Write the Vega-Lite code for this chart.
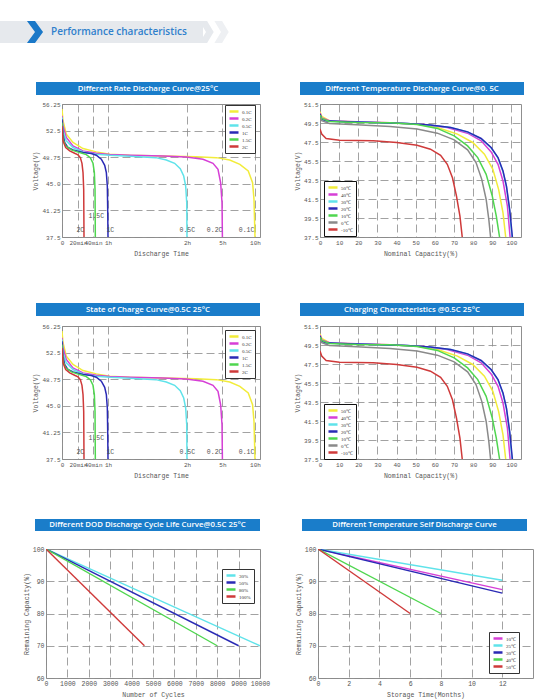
{
  "$schema": "https://vega.github.io/schema/vega-lite/v6.json",
  "background": "white",
  "padding": {"left": 0, "top": 21, "right": 0, "bottom": 0},
  "spacing": 0,
  "resolve": {
    "scale": {"x": "independent", "y": "independent", "color": "independent"},
    "legend": {"color": "independent"}
  },
  "datasets": {
    "rate": [
      {"rate": "0.1C", "t": 0, "v": 55.54}, {"rate": "0.1C", "t": 1.25, "v": 53.89}, {"rate": "0.1C", "t": 5.4, "v": 52.0},
      {"rate": "0.1C", "t": 13.75, "v": 50.82}, {"rate": "0.1C", "t": 26.7, "v": 49.97}, {"rate": "0.1C", "t": 44.4, "v": 49.5},
      {"rate": "0.1C", "t": 61.3, "v": 49.17}, {"rate": "0.1C", "t": 76.5, "v": 49.02}, {"rate": "0.1C", "t": 101.7, "v": 48.93},
      {"rate": "0.1C", "t": 167.4, "v": 48.83}, {"rate": "0.1C", "t": 269, "v": 48.69}, {"rate": "0.1C", "t": 367.8, "v": 48.36},
      {"rate": "0.1C", "t": 460.7, "v": 47.75}, {"rate": "0.1C", "t": 537.8, "v": 46.8}, {"rate": "0.1C", "t": 577.7, "v": 45.15},
      {"rate": "0.1C", "t": 590.7, "v": 42.8}, {"rate": "0.1C", "t": 600, "v": 37.5},
      {"rate": "0.2C", "t": 0, "v": 54.6}, {"rate": "0.2C", "t": 1.25, "v": 53.18}, {"rate": "0.2C", "t": 5.4, "v": 51.53},
      {"rate": "0.2C", "t": 13.75, "v": 50.35}, {"rate": "0.2C", "t": 26.7, "v": 49.64}, {"rate": "0.2C", "t": 44.4, "v": 49.31},
      {"rate": "0.2C", "t": 61.3, "v": 49.12}, {"rate": "0.2C", "t": 76.5, "v": 49.02}, {"rate": "0.2C", "t": 101.7, "v": 48.93},
      {"rate": "0.2C", "t": 119.4, "v": 48.79}, {"rate": "0.2C", "t": 201.4, "v": 48.46}, {"rate": "0.2C", "t": 252.2, "v": 47.89},
      {"rate": "0.2C", "t": 277.6, "v": 47.04}, {"rate": "0.2C", "t": 291.1, "v": 45.15}, {"rate": "0.2C", "t": 298, "v": 42.32},
      {"rate": "0.2C", "t": 300, "v": 37.5},
      {"rate": "0.5C", "t": 0, "v": 54.36}, {"rate": "0.5C", "t": 1.25, "v": 52.47}, {"rate": "0.5C", "t": 5.4, "v": 51.05},
      {"rate": "0.5C", "t": 13.75, "v": 50.11}, {"rate": "0.5C", "t": 26.7, "v": 49.5}, {"rate": "0.5C", "t": 44.4, "v": 49.17},
      {"rate": "0.5C", "t": 61.3, "v": 49.02}, {"rate": "0.5C", "t": 76.5, "v": 48.88}, {"rate": "0.5C", "t": 96.4, "v": 48.69},
      {"rate": "0.5C", "t": 104.3, "v": 48.36}, {"rate": "0.5C", "t": 110.6, "v": 47.89}, {"rate": "0.5C", "t": 114.9, "v": 47.14},
      {"rate": "0.5C", "t": 117.5, "v": 46.1}, {"rate": "0.5C", "t": 119, "v": 44.68}, {"rate": "0.5C", "t": 119.8, "v": 42.32},
      {"rate": "0.5C", "t": 120, "v": 37.5},
      {"rate": "1C", "t": 0, "v": 54.1}, {"rate": "1C", "t": 1.25, "v": 52.0}, {"rate": "1C", "t": 3.3, "v": 50.82},
      {"rate": "1C", "t": 7.5, "v": 50.11}, {"rate": "1C", "t": 13.75, "v": 49.78}, {"rate": "1C", "t": 26.7, "v": 49.4},
      {"rate": "1C", "t": 37.8, "v": 49.26}, {"rate": "1C", "t": 44.4, "v": 49.02}, {"rate": "1C", "t": 51.1, "v": 48.46},
      {"rate": "1C", "t": 55.6, "v": 47.61}, {"rate": "1C", "t": 57.8, "v": 46.57}, {"rate": "1C", "t": 59.1, "v": 44.68},
      {"rate": "1C", "t": 59.6, "v": 41.37}, {"rate": "1C", "t": 60, "v": 37.5},
      {"rate": "1.5C", "t": 0, "v": 53.65}, {"rate": "1.5C", "t": 1.25, "v": 51.29}, {"rate": "1.5C", "t": 4.6, "v": 50.35},
      {"rate": "1.5C", "t": 11.7, "v": 49.78}, {"rate": "1.5C", "t": 22.2, "v": 49.4}, {"rate": "1.5C", "t": 31.1, "v": 49.12},
      {"rate": "1.5C", "t": 36.4, "v": 48.69}, {"rate": "1.5C", "t": 40, "v": 47.89}, {"rate": "1.5C", "t": 41.8, "v": 46.57},
      {"rate": "1.5C", "t": 42.7, "v": 44.2}, {"rate": "1.5C", "t": 43.1, "v": 37.5},
      {"rate": "2C", "t": 0, "v": 53.18}, {"rate": "2C", "t": 1.25, "v": 51.06}, {"rate": "2C", "t": 4.6, "v": 50.11},
      {"rate": "2C", "t": 9.6, "v": 49.64}, {"rate": "2C", "t": 15.8, "v": 49.31}, {"rate": "2C", "t": 20, "v": 49.07},
      {"rate": "2C", "t": 23.1, "v": 48.69}, {"rate": "2C", "t": 25.3, "v": 47.89}, {"rate": "2C", "t": 26.7, "v": 46.57},
      {"rate": "2C", "t": 27.6, "v": 44.2}, {"rate": "2C", "t": 28, "v": 37.5}
    ],
    "rateLabels": [
      {"label": "2C", "t": 23.1, "v": 38.44},
      {"label": "1.5C", "t": 44.4, "v": 40.43},
      {"label": "1C", "t": 61.8, "v": 38.44},
      {"label": "0.5C", "t": 121.6, "v": 38.44},
      {"label": "0.2C", "t": 260.6, "v": 38.44},
      {"label": "0.1C", "t": 522, "v": 38.44}
    ],
    "temp": [
      {"temp": "50℃", "c": 0, "v": 50.69}, {"temp": "50℃", "c": 0.9, "v": 50.2}, {"temp": "50℃", "c": 4.9, "v": 49.74},
      {"temp": "50℃", "c": 19, "v": 49.6}, {"temp": "50℃", "c": 36.6, "v": 49.53}, {"temp": "50℃", "c": 50.7, "v": 49.38},
      {"temp": "50℃", "c": 61.3, "v": 49.03}, {"temp": "50℃", "c": 71.8, "v": 48.33}, {"temp": "50℃", "c": 79.8, "v": 47.45},
      {"temp": "50℃", "c": 85.9, "v": 46.21}, {"temp": "50℃", "c": 90.3, "v": 44.62}, {"temp": "50℃", "c": 93.3, "v": 42.51},
      {"temp": "50℃", "c": 95.6, "v": 40.04}, {"temp": "50℃", "c": 97, "v": 37.5},
      {"temp": "40℃", "c": 0, "v": 50.55}, {"temp": "40℃", "c": 0.9, "v": 50.02}, {"temp": "40℃", "c": 4.9, "v": 49.74},
      {"temp": "40℃", "c": 19, "v": 49.63}, {"temp": "40℃", "c": 36.6, "v": 49.53}, {"temp": "40℃", "c": 54.2, "v": 49.35},
      {"temp": "40℃", "c": 66.5, "v": 49.03}, {"temp": "40℃", "c": 77.1, "v": 48.43}, {"temp": "40℃", "c": 84.2, "v": 47.62},
      {"temp": "40℃", "c": 89.4, "v": 46.46}, {"temp": "40℃", "c": 93, "v": 45.15}, {"temp": "40℃", "c": 95.6, "v": 43.39},
      {"temp": "40℃", "c": 97.9, "v": 40.75}, {"temp": "40℃", "c": 99.3, "v": 37.5},
      {"temp": "30℃", "c": 0, "v": 50.4}, {"temp": "30℃", "c": 0.9, "v": 49.88}, {"temp": "30℃", "c": 3.2, "v": 49.72},
      {"temp": "30℃", "c": 10.2, "v": 49.66}, {"temp": "30℃", "c": 27.8, "v": 49.55}, {"temp": "30℃", "c": 45.4, "v": 49.44},
      {"temp": "30℃", "c": 57.7, "v": 49.27}, {"temp": "30℃", "c": 68.3, "v": 49.02}, {"temp": "30℃", "c": 77.1, "v": 48.55},
      {"temp": "30℃", "c": 84.2, "v": 47.84}, {"temp": "30℃", "c": 89.4, "v": 46.88}, {"temp": "30℃", "c": 93, "v": 45.8},
      {"temp": "30℃", "c": 95.6, "v": 44.38}, {"temp": "30℃", "c": 97.4, "v": 42.78}, {"temp": "30℃", "c": 99, "v": 40.3},
      {"temp": "30℃", "c": 100.3, "v": 37.5},
      {"temp": "20℃", "c": 0, "v": 50.44}, {"temp": "20℃", "c": 0.9, "v": 49.91}, {"temp": "20℃", "c": 3.2, "v": 49.74},
      {"temp": "20℃", "c": 10.2, "v": 49.67}, {"temp": "20℃", "c": 27.8, "v": 49.56}, {"temp": "20℃", "c": 45.4, "v": 49.45},
      {"temp": "20℃", "c": 57.7, "v": 49.28}, {"temp": "20℃", "c": 68.3, "v": 49.03}, {"temp": "20℃", "c": 77.1, "v": 48.57},
      {"temp": "20℃", "c": 84.2, "v": 47.87}, {"temp": "20℃", "c": 89.4, "v": 46.92}, {"temp": "20℃", "c": 93, "v": 45.86},
      {"temp": "20℃", "c": 95.6, "v": 44.45}, {"temp": "20℃", "c": 97.4, "v": 42.86}, {"temp": "20℃", "c": 99.1, "v": 40.39},
      {"temp": "20℃", "c": 100.5, "v": 37.5},
      {"temp": "10℃", "c": 0, "v": 50.34}, {"temp": "10℃", "c": 0.9, "v": 49.98}, {"temp": "10℃", "c": 4.9, "v": 49.67},
      {"temp": "10℃", "c": 19, "v": 49.56}, {"temp": "10℃", "c": 36.6, "v": 49.53}, {"temp": "10℃", "c": 50.7, "v": 49.35},
      {"temp": "10℃", "c": 61.3, "v": 48.93}, {"temp": "10℃", "c": 70.1, "v": 48.15}, {"temp": "10℃", "c": 77.1, "v": 47.09},
      {"temp": "10℃", "c": 82.4, "v": 45.86}, {"temp": "10℃", "c": 86.8, "v": 44.1}, {"temp": "10℃", "c": 90, "v": 41.8},
      {"temp": "10℃", "c": 92.1, "v": 39.69}, {"temp": "10℃", "c": 93.8, "v": 37.5},
      {"temp": "0℃", "c": 0, "v": 50.09}, {"temp": "0℃", "c": 0.9, "v": 49.74}, {"temp": "0℃", "c": 4.9, "v": 49.45},
      {"temp": "0℃", "c": 19, "v": 49.31}, {"temp": "0℃", "c": 36.6, "v": 49.14}, {"temp": "0℃", "c": 50.7, "v": 48.86},
      {"temp": "0℃", "c": 61.3, "v": 48.43}, {"temp": "0℃", "c": 70.1, "v": 47.73}, {"temp": "0℃", "c": 77.1, "v": 46.67},
      {"temp": "0℃", "c": 81.5, "v": 45.33}, {"temp": "0℃", "c": 84.5, "v": 43.57}, {"temp": "0℃", "c": 86.8, "v": 41.45},
      {"temp": "0℃", "c": 88.2, "v": 39.33}, {"temp": "0℃", "c": 89.1, "v": 37.5},
      {"temp": "-10℃", "c": 0, "v": 48.86}, {"temp": "-10℃", "c": 0.9, "v": 48.33}, {"temp": "-10℃", "c": 3.2, "v": 47.87},
      {"temp": "-10℃", "c": 10.2, "v": 47.69}, {"temp": "-10℃", "c": 27.8, "v": 47.62}, {"temp": "-10℃", "c": 40.1, "v": 47.45},
      {"temp": "-10℃", "c": 50.7, "v": 47.16}, {"temp": "-10℃", "c": 57.7, "v": 46.74}, {"temp": "-10℃", "c": 63, "v": 46.1},
      {"temp": "-10℃", "c": 66.5, "v": 45.15}, {"temp": "-10℃", "c": 69.2, "v": 43.74}, {"temp": "-10℃", "c": 71.3, "v": 41.8},
      {"temp": "-10℃", "c": 73.1, "v": 39.69}, {"temp": "-10℃", "c": 74.3, "v": 37.5}
    ],
    "dod": [
      {"dod": "30%", "cycles": 0, "cap": 100}, {"dod": "30%", "cycles": 10000, "cap": 70},
      {"dod": "50%", "cycles": 0, "cap": 100}, {"dod": "50%", "cycles": 9000, "cap": 70},
      {"dod": "80%", "cycles": 0, "cap": 100}, {"dod": "80%", "cycles": 8000, "cap": 70},
      {"dod": "100%", "cycles": 0, "cap": 100}, {"dod": "100%", "cycles": 4600, "cap": 70}
    ],
    "selfDischarge": [
      {"temp": "10℃", "months": 0, "cap": 100}, {"temp": "10℃", "months": 12, "cap": 87.4},
      {"temp": "25℃", "months": 0, "cap": 100}, {"temp": "25℃", "months": 12, "cap": 90.3},
      {"temp": "30℃", "months": 0, "cap": 100}, {"temp": "30℃", "months": 12, "cap": 86.3},
      {"temp": "40℃", "months": 0, "cap": 100}, {"temp": "40℃", "months": 8, "cap": 80},
      {"temp": "50℃", "months": 0, "cap": 100}, {"temp": "50℃", "months": 6, "cap": 80}
    ]
  },
  "vconcat": [
    {
      "hconcat": [
        {
          "width": 230, "height": 22,
          "layer": [
            {"data": {"values": [{}]}, "mark": {"type": "rect", "color": "#e6e9ed"},
             "encoding": {"x": {"datum": 0, "type": "quantitative", "scale": {"domain": [0, 230], "nice": false}, "axis": null}, "x2": {"datum": 203}}},
            {"data": {"values": [{}]}, "mark": {"type": "point", "shape": "M-0.6,-1L0.1,-1L0.7,0L0.1,1L-0.6,1L0,0Z", "size": 484, "filled": true, "opacity": 1, "color": "#e6e9ed"},
             "encoding": {"x": {"datum": 206, "type": "quantitative", "axis": null}}},
            {"data": {"values": [{}]}, "mark": {"type": "point", "shape": "M-0.6,-1L0.1,-1L0.7,0L0.1,1L-0.6,1L0,0Z", "size": 484, "filled": true, "opacity": 1, "color": "#eef0f3"},
             "encoding": {"x": {"datum": 221, "type": "quantitative", "axis": null}}},
            {"data": {"values": [{}]}, "mark": {"type": "point", "shape": "M-0.73,-1L0,-1L0.73,0L0,1L-0.73,1L0,0Z", "size": 484, "filled": true, "opacity": 1, "color": "#1a78c8"},
             "encoding": {"x": {"datum": 35, "type": "quantitative", "axis": null}}},
            {"data": {"values": [{"text": "Performance characteristics"}]},
             "mark": {"type": "text", "align": "left", "font": "Open Sans", "fontSize": 10, "fontWeight": 600, "color": "#2f80cc"},
             "encoding": {"x": {"datum": 51, "type": "quantitative", "axis": null}, "text": {"field": "text", "type": "nominal"}}}
          ]
        },
        {"width": 1, "height": 58, "data": {"values": [{}]}, "mark": {"type": "point", "opacity": 0}, "encoding": {}}
      ],
      "bounds": "flush", "spacing": 0
    },
    {
      "hconcat": [
        {"width": 36, "height": 18, "data": {"values": [{}]}, "mark": {"type": "point", "opacity": 0}, "encoding": {}},
        {"width": 224, "height": 13, "view": {"fill": "#1a7dca", "stroke": null},
         "data": {"values": [{"title": "Different Rate Discharge Curve@25°C"}]},
         "mark": {"type": "text", "color": "white", "font": "Open Sans", "fontSize": 7.8, "fontWeight": 600},
         "encoding": {"text": {"field": "title", "type": "nominal"}}},
        {"width": 40, "height": 1, "data": {"values": [{}]}, "mark": {"type": "point", "opacity": 0}, "encoding": {}},
        {"width": 224, "height": 13, "view": {"fill": "#1a7dca", "stroke": null},
         "data": {"values": [{"title": "Different Temperature Discharge Curve@0. 5C"}]},
         "mark": {"type": "text", "color": "white", "font": "Open Sans", "fontSize": 7.8, "fontWeight": 600},
         "encoding": {"text": {"field": "title", "type": "nominal"}}}
      ],
      "bounds": "flush", "spacing": 0
    },
    {
      "hconcat": [
        {"width": 62, "height": 196, "data": {"values": [{}]}, "mark": {"type": "point", "opacity": 0}, "encoding": {}},
        {
          "width": 198, "height": 133,
          "view": {"stroke": "#8f8f8f", "strokeWidth": 1},
          "layer": [
            {"data": {"name": "rate"}, "mark": {"type": "line", "strokeWidth": 1.5, "clip": true},
             "encoding": {
               "x": {"field": "t", "type": "quantitative", "title": "Discharge Time",
                     "scale": {"domain": [0, 20, 40, 60, 120, 300, 600, 646], "range": [0, 16, 31, 46, 125, 160.4, 193, 198], "nice": false},
                     "axis": {"values": [0, 20, 40, 60, 120, 300, 600], "tickCount": 20, "labelExpr": "datum.value == 0 ? '0' : datum.value < 60 ? datum.value + 'min' : (datum.value / 60) + 'h'"}},
               "y": {"field": "v", "type": "quantitative", "title": "Voltage(V)",
                     "scale": {"domain": [37.5, 56.25], "nice": false, "zero": false},
                     "axis": {"values": [37.5, 41.25, 45, 48.75, 52.5, 56.25], "tickCount": 20, "format": ".2~f", "labelExpr": "datum.value == 45 ? '45.0' : datum.label"}},
               "color": {"field": "rate", "type": "nominal",
                         "scale": {"domain": ["0.1C", "0.2C", "0.5C", "1C", "1.5C", "2C"], "range": ["#f2ec3a", "#d63fd6", "#5fe3ea", "#2a2ab5", "#4fd64f", "#cf3a3a"]},
                         "legend": {"title": null, "orient": "none", "legendX": 163, "legendY": 1}}
             }},
            {"data": {"name": "rateLabels"}, "mark": {"type": "text", "font": "Liberation Mono", "fontSize": 6.5, "color": "#555"},
             "encoding": {
               "x": {"field": "t", "type": "quantitative", "title": "Discharge Time",
                     "axis": {"values": [0, 20, 40, 60, 120, 300, 600], "tickCount": 20, "labelExpr": "datum.value == 0 ? '0' : datum.value < 60 ? datum.value + 'min' : (datum.value / 60) + 'h'"}},
               "y": {"field": "v", "type": "quantitative", "title": "Voltage(V)",
                     "axis": {"values": [37.5, 41.25, 45, 48.75, 52.5, 56.25], "tickCount": 20, "format": ".2~f", "labelExpr": "datum.value == 45 ? '45.0' : datum.label"}},
               "text": {"field": "label", "type": "nominal"}
             }}
          ]
        },
        {"width": 60, "height": 1, "data": {"values": [{}]}, "mark": {"type": "point", "opacity": 0}, "encoding": {}},
        {
          "width": 201, "height": 133,
          "view": {"stroke": "#8f8f8f", "strokeWidth": 1},
          "data": {"name": "temp"},
          "mark": {"type": "line", "strokeWidth": 1.5, "clip": true},
          "encoding": {
            "x": {"field": "c", "type": "quantitative", "title": "Nominal Capacity(%)",
                  "scale": {"domain": [0, 105], "nice": false},
                  "axis": {"values": [0, 10, 20, 30, 40, 50, 60, 70, 80, 90, 100], "format": "d"}},
            "y": {"field": "v", "type": "quantitative", "title": "Voltage(V)",
                  "scale": {"domain": [37.5, 51.5], "nice": false, "zero": false},
                  "axis": {"values": [37.5, 39.5, 41.5, 43.5, 45.5, 47.5, 49.5, 51.5], "format": ".1f"}},
            "color": {"field": "temp", "type": "nominal",
                      "scale": {"domain": ["50℃", "40℃", "30℃", "20℃", "10℃", "0℃", "-10℃"], "range": ["#f2ec3a", "#d63fd6", "#5fe3ea", "#2a2ab5", "#4fd64f", "#8a8a8a", "#cf3a3a"]},
                      "legend": {"title": null, "orient": "none", "legendX": 4, "legendY": 77, "strokeColor": "#111"}}
          }
        }
      ],
      "bounds": "flush", "spacing": 0,
      "resolve": {"scale": {"x": "independent", "y": "independent", "color": "independent"}, "legend": {"color": "independent"}}
    },
    {
      "hconcat": [
        {"width": 36, "height": 19, "data": {"values": [{}]}, "mark": {"type": "point", "opacity": 0}, "encoding": {}},
        {"width": 224, "height": 13, "view": {"fill": "#1a7dca", "stroke": null},
         "data": {"values": [{"title": "State of Charge Curve@0.5C 25°C"}]},
         "mark": {"type": "text", "color": "white", "font": "Open Sans", "fontSize": 7.8, "fontWeight": 600},
         "encoding": {"text": {"field": "title", "type": "nominal"}}},
        {"width": 40, "height": 1, "data": {"values": [{}]}, "mark": {"type": "point", "opacity": 0}, "encoding": {}},
        {"width": 224, "height": 13, "view": {"fill": "#1a7dca", "stroke": null},
         "data": {"values": [{"title": "Charging Characteristics @0.5C 25°C"}]},
         "mark": {"type": "text", "color": "white", "font": "Open Sans", "fontSize": 7.8, "fontWeight": 600},
         "encoding": {"text": {"field": "title", "type": "nominal"}}}
      ],
      "bounds": "flush", "spacing": 0
    },
    {
      "hconcat": [
        {"width": 62, "height": 190, "data": {"values": [{}]}, "mark": {"type": "point", "opacity": 0}, "encoding": {}},
        {
          "width": 198, "height": 133,
          "view": {"stroke": "#8f8f8f", "strokeWidth": 1},
          "layer": [
            {"data": {"name": "rate"}, "mark": {"type": "line", "strokeWidth": 1.5, "clip": true},
             "encoding": {
               "x": {"field": "t", "type": "quantitative", "title": "Discharge Time",
                     "scale": {"domain": [0, 20, 40, 60, 120, 300, 600, 646], "range": [0, 16, 31, 46, 125, 160.4, 193, 198], "nice": false},
                     "axis": {"values": [0, 20, 40, 60, 120, 300, 600], "tickCount": 20, "labelExpr": "datum.value == 0 ? '0' : datum.value < 60 ? datum.value + 'min' : (datum.value / 60) + 'h'"}},
               "y": {"field": "v", "type": "quantitative", "title": "Voltage(V)",
                     "scale": {"domain": [37.5, 56.25], "nice": false, "zero": false},
                     "axis": {"values": [37.5, 41.25, 45, 48.75, 52.5, 56.25], "tickCount": 20, "format": ".2~f", "labelExpr": "datum.value == 45 ? '45.0' : datum.label"}},
               "color": {"field": "rate", "type": "nominal",
                         "scale": {"domain": ["0.1C", "0.2C", "0.5C", "1C", "1.5C", "2C"], "range": ["#f2ec3a", "#d63fd6", "#5fe3ea", "#2a2ab5", "#4fd64f", "#cf3a3a"]},
                         "legend": {"title": null, "orient": "none", "legendX": 163, "legendY": 4}}
             }},
            {"data": {"name": "rateLabels"}, "mark": {"type": "text", "font": "Liberation Mono", "fontSize": 6.5, "color": "#555"},
             "encoding": {
               "x": {"field": "t", "type": "quantitative", "title": "Discharge Time",
                     "axis": {"values": [0, 20, 40, 60, 120, 300, 600], "tickCount": 20, "labelExpr": "datum.value == 0 ? '0' : datum.value < 60 ? datum.value + 'min' : (datum.value / 60) + 'h'"}},
               "y": {"field": "v", "type": "quantitative", "title": "Voltage(V)",
                     "axis": {"values": [37.5, 41.25, 45, 48.75, 52.5, 56.25], "tickCount": 20, "format": ".2~f", "labelExpr": "datum.value == 45 ? '45.0' : datum.label"}},
               "text": {"field": "label", "type": "nominal"}
             }}
          ]
        },
        {"width": 60, "height": 1, "data": {"values": [{}]}, "mark": {"type": "point", "opacity": 0}, "encoding": {}},
        {
          "width": 201, "height": 133,
          "view": {"stroke": "#8f8f8f", "strokeWidth": 1},
          "data": {"name": "temp"},
          "mark": {"type": "line", "strokeWidth": 1.5, "clip": true},
          "encoding": {
            "x": {"field": "c", "type": "quantitative", "title": "Nominal Capacity(%)",
                  "scale": {"domain": [0, 105], "nice": false},
                  "axis": {"values": [0, 10, 20, 30, 40, 50, 60, 70, 80, 90, 100], "format": "d"}},
            "y": {"field": "v", "type": "quantitative", "title": "Voltage(V)",
                  "scale": {"domain": [37.5, 51.5], "nice": false, "zero": false},
                  "axis": {"values": [37.5, 39.5, 41.5, 43.5, 45.5, 47.5, 49.5, 51.5], "format": ".1f"}},
            "color": {"field": "temp", "type": "nominal",
                      "scale": {"domain": ["50℃", "40℃", "30℃", "20℃", "10℃", "0℃", "-10℃"], "range": ["#f2ec3a", "#d63fd6", "#5fe3ea", "#2a2ab5", "#4fd64f", "#8a8a8a", "#cf3a3a"]},
                      "legend": {"title": null, "orient": "none", "legendX": 4, "legendY": 78, "strokeColor": "#111"}}
          }
        }
      ],
      "bounds": "flush", "spacing": 0,
      "resolve": {"scale": {"x": "independent", "y": "independent", "color": "independent"}, "legend": {"color": "independent"}}
    },
    {
      "hconcat": [
        {"width": 35, "height": 26, "data": {"values": [{}]}, "mark": {"type": "point", "opacity": 0}, "encoding": {}},
        {"width": 225, "height": 12, "view": {"fill": "#1a7dca", "stroke": null},
         "data": {"values": [{"title": "Different DOD Discharge Cycle Life Curve@0.5C 25°C"}]},
         "mark": {"type": "text", "color": "white", "font": "Open Sans", "fontSize": 7.8, "fontWeight": 600},
         "encoding": {"text": {"field": "title", "type": "nominal"}}},
        {"width": 42, "height": 1, "data": {"values": [{}]}, "mark": {"type": "point", "opacity": 0}, "encoding": {}},
        {"width": 225, "height": 12, "view": {"fill": "#1a7dca", "stroke": null},
         "data": {"values": [{"title": "Different Temperature Self Discharge Curve"}]},
         "mark": {"type": "text", "color": "white", "font": "Open Sans", "fontSize": 7.8, "fontWeight": 600},
         "encoding": {"text": {"field": "title", "type": "nominal"}}}
      ],
      "bounds": "flush", "spacing": 0
    },
    {
      "hconcat": [
        {"width": 46, "height": 129, "data": {"values": [{}]}, "mark": {"type": "point", "opacity": 0}, "encoding": {}},
        {
          "width": 214, "height": 129,
          "view": {"stroke": "#8f8f8f", "strokeWidth": 1},
          "data": {"name": "dod"},
          "mark": {"type": "line", "strokeWidth": 1.4, "clip": true},
          "encoding": {
            "x": {"field": "cycles", "type": "quantitative", "title": "Number of Cycles",
                  "scale": {"domain": [0, 10000], "nice": false},
                  "axis": {"values": [0, 1000, 2000, 3000, 4000, 5000, 6000, 7000, 8000, 9000, 10000], "format": "d", "labelFontSize": 6.5}},
            "y": {"field": "cap", "type": "quantitative", "title": "Remaining Capacity(%)",
                  "scale": {"domain": [60, 100], "nice": false, "zero": false},
                  "axis": {"values": [60, 70, 80, 90, 100], "format": "d", "labelFontSize": 6.5}},
            "color": {"field": "dod", "type": "nominal",
                      "scale": {"domain": ["30%", "50%", "80%", "100%"], "range": ["#5fe3ea", "#2a2ab5", "#4fd64f", "#cf3a3a"]},
                      "legend": {"title": null, "orient": "none", "legendX": 176, "legendY": 20}}
          }
        },
        {"width": 58, "height": 1, "data": {"values": [{}]}, "mark": {"type": "point", "opacity": 0}, "encoding": {}},
        {
          "width": 215, "height": 129,
          "view": {"stroke": "#8f8f8f", "strokeWidth": 1},
          "data": {"name": "selfDischarge"},
          "mark": {"type": "line", "strokeWidth": 1.4, "clip": true},
          "encoding": {
            "x": {"field": "months", "type": "quantitative", "title": "Storage Time(Months)",
                  "scale": {"domain": [0, 14], "nice": false},
                  "axis": {"values": [0, 2, 4, 6, 8, 10, 12], "format": "d", "labelFontSize": 6.5}},
            "y": {"field": "cap", "type": "quantitative", "title": "Remaining Capacity(%)",
                  "scale": {"domain": [60, 100], "nice": false, "zero": false},
                  "axis": {"values": [60, 70, 80, 90, 100], "format": "d", "labelFontSize": 6.5}},
            "color": {"field": "temp", "type": "nominal",
                      "scale": {"domain": ["10℃", "25℃", "30℃", "40℃", "50℃"], "range": ["#d63fd6", "#5fe3ea", "#2a2ab5", "#4fd64f", "#cf3a3a"]},
                      "legend": {"title": null, "orient": "none", "legendX": 171, "legendY": 83}}
          }
        }
      ],
      "bounds": "flush", "spacing": 0,
      "resolve": {"scale": {"x": "independent", "y": "independent", "color": "independent"}, "legend": {"color": "independent"}}
    }
  ],
  "config": {
    "view": {"stroke": null},
    "axis": {
      "labelFont": "Liberation Mono", "labelFontSize": 6, "labelColor": "#555",
      "titleFont": "Liberation Mono", "titleFontSize": 6.5, "titleFontWeight": "normal", "titleColor": "#555",
      "ticks": false, "domain": false, "grid": true,
      "gridDash": [8, 4], "gridColor": "#8a8a8a", "gridWidth": 0.8,
      "labelPadding": 2, "titlePadding": 3,
      "labelFlush": false, "labelOverlap": false, "labelBound": false
    },
    "axisX": {"titlePadding": 5},
    "legend": {
      "symbolType": "M-1,0L2.6,0", "symbolStrokeWidth": 2.5, "symbolSize": 25,
      "labelFont": "Liberation Serif", "labelFontSize": 5, "labelColor": "#333",
      "strokeColor": "#333", "fillColor": "white", "padding": 3, "rowPadding": 0, "labelOffset": 6,
      "clipHeight": 7
    }
  }
}
